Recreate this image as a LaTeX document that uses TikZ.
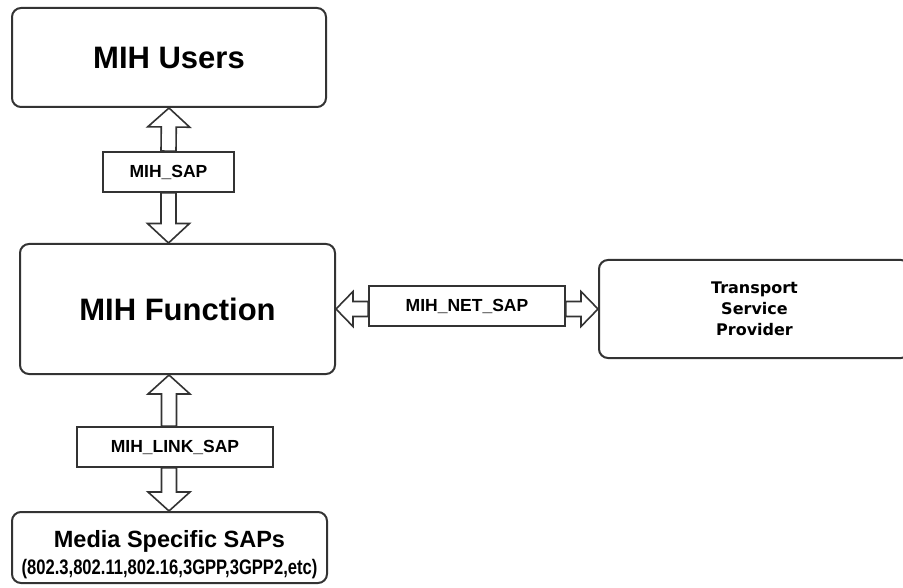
\documentclass[tikz,border=0pt]{standalone}
\usepackage{fontspec}
\setmainfont{Liberation Sans}
\newfontfamily\tspfont{DejaVu Sans}
\newfontfamily\narrowfont[FakeStretch=0.79]{Liberation Sans}
\usetikzlibrary{calc}

\definecolor{boxgray}{HTML}{333333}
\tikzset{
  block/.style={draw=boxgray, line width=2pt, rounded corners=9pt, inner sep=0pt},
  sapbox/.style={draw=boxgray, line width=1.8pt, fill=white, inner sep=0pt,
    minimum height=40pt, font=\bfseries\fontsize{17.5}{20}\selectfont},
  hollow/.style={draw=boxgray, line width=1.6pt, fill=white, line join=miter}
}

% block arrow: tail, tip, head length, head half width
\newcommand{\blockarrow}[4]{%
  \draw[hollow] let \p1=(#1), \p2=(#2), \n1={veclen(\x2-\x1,\y2-\y1)},
      \n2={(\x2-\x1)/\n1}, \n3={(\y2-\y1)/\n1} in
    (\x2,\y2)
    -- ({\x2-#3*\n2-#4*\n3},{\y2-#3*\n3+#4*\n2})
    -- ({\x2-#3*\n2-7.5*\n3},{\y2-#3*\n3+7.5*\n2})
    -- ({\x1-7.5*\n3},{\y1+7.5*\n2})
    -- ({\x1+7.5*\n3},{\y1-7.5*\n2})
    -- ({\x2-#3*\n2+7.5*\n3},{\y2-#3*\n3-7.5*\n2})
    -- ({\x2-#3*\n2+#4*\n3},{\y2-#3*\n3-#4*\n2})
    -- cycle;
}

\begin{document}
\begin{tikzpicture}[x=1pt, y=1pt]
  \useasboundingbox (0,0) rectangle (903,-588);

  \node[block, minimum width=314pt, minimum height=99pt,
    font=\bfseries\fontsize{31}{36}\selectfont] (users) at (169,-57.5) {MIH Users};
  \node[sapbox, minimum width=131pt] (sap) at (168.5,-172) {MIH\_SAP};
  \node[block, minimum width=315pt, minimum height=130pt,
    font=\bfseries\fontsize{31}{36}\selectfont] (func) at (177.5,-309) {MIH Function};
  \node[sapbox, minimum width=196pt] (net) at (467,-306) {MIH\_NET\_SAP};
  \node[block, minimum width=311pt, minimum height=98pt, align=center,
    font=\tspfont\bfseries\fontsize{16}{21}\selectfont] (tsp) at (754.5,-309)
    {Transport\\Service\\Provider};
  \node[sapbox, minimum width=196pt] (link) at (175,-447) {MIH\_LINK\_SAP};
  \node[block, minimum width=315pt, minimum height=71pt, align=center,
    font=\bfseries\fontsize{23.5}{27}\selectfont] (media) at (169.5,-547.5)
    {\rule{0pt}{31pt}Media Specific SAPs\\{\narrowfont\bfseries\fontsize{21}{27}\selectfont (802.3,802.11,802.16,3GPP,3GPP2,etc)}};

  \blockarrow{sap.north}{users.south}{19}{21}
  \blockarrow{sap.south}{func.north -| sap.south}{19.5}{21}
  \blockarrow{net.west |- func.east}{func.east}{17}{17.5}
  \blockarrow{net.east |- func.east}{tsp.west |- func.east}{17}{17.5}
  \blockarrow{link.north -| users.south}{func.south -| users.south}{19}{21}
  \blockarrow{link.south -| users.south}{media.north -| users.south}{19}{21}
\end{tikzpicture}
\end{document}
